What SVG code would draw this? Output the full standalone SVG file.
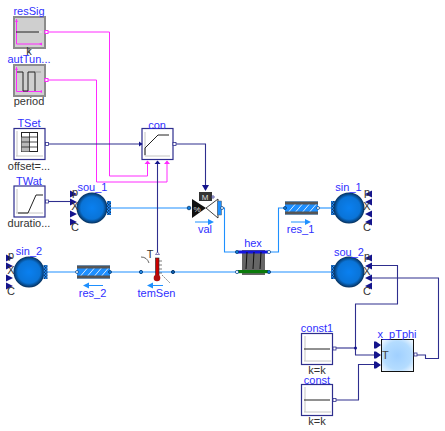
<svg xmlns="http://www.w3.org/2000/svg" width="445" height="431" viewBox="0 0 445 431">
<style>
text{font-family:"Liberation Sans",Arial,sans-serif;font-size:11px}
.n{fill:#2f2fff;text-anchor:middle}
.d{fill:#333;text-anchor:middle}
.b{fill:#fff;stroke:#2e2e8e;stroke-width:1.2}
.g{fill:#cfcfcf;stroke:#8c8c8c;stroke-width:2}
.ax{fill:none;stroke:#c4c4c4;stroke-width:1}
.axm{fill:none;stroke:#ff2bff;stroke-width:1}
.k{fill:none;stroke:#222;stroke-width:1}
.wb{fill:none;stroke:#1e90ff;stroke-width:1.1}
.wn{fill:none;stroke:#2e2e8e;stroke-width:1.1}
.wm{fill:none;stroke:#ff2bff;stroke-width:1}
.tri{fill:#14148c}
.dot{fill:#fff;stroke:#2e2e8e;stroke-width:.8}
.fl{fill:#0d7fe0;stroke:#0a3a70;stroke-width:.8}
.fo{fill:#fff;stroke:#0a4a90;stroke-width:.8}
.arrow{fill:#1e90ff}
</style>
<defs>
<radialGradient id="ball" cx=".5" cy=".5" r=".5"><stop offset="0" stop-color="#0a80f0"/><stop offset=".72" stop-color="#0a74d8"/><stop offset="1" stop-color="#06305c"/></radialGradient>
<radialGradient id="sq" cx=".5" cy=".5" r=".62"><stop offset="0" stop-color="#a0d0ff"/><stop offset=".7" stop-color="#b4dcff"/><stop offset="1" stop-color="#e6f3ff"/></radialGradient>
<pattern id="chk" width="3" height="3" patternUnits="userSpaceOnUse"><rect width="3" height="3" fill="#1e90ff"/><rect width="1.5" height="1.5" fill="#123a70"/><rect x="1.5" y="1.5" width="1.5" height="1.5" fill="#123a70"/></pattern>
<g id="ports"><path class="tri" d="M0-17.500l7 3.500-7 3.500zM0-9.500l7 3.500-7 3.500zM0 2.500l7 3.500-7 3.500zM0 10.500l7 3.500-7 3.500z"/></g>
<g id="pipeI"><rect x="0" y="0" width="33" height="13" fill="#1e8fff"/><rect x="0" y="0" width="33" height="3" fill="#555"/><rect x="0" y="10" width="33" height="3" fill="#555"/><path d="M4 10l6-7M11 10l6-7M18 10l6-7M25 10l6-7" stroke="#fff" stroke-width=".8"/></g>
</defs>
<g id="connectors">
<path class="wm" d="M45 32H109.500V176H147.500V161"/>
<path class="wm" d="M45 80H96.500V182H167V161"/>
<path class="wn" d="M45 144H142"/>
<path class="wn" d="M45 201.500H73"/>
<path class="wn" d="M173 144H205.500V190"/>
<path class="wb" d="M111 208H188"/>
<path class="wn" d="M157.500 161V253"/>
<path class="wb" d="M222 208H224.500V252H238"/>
<path class="wb" d="M268 252H278.500V208H285"/>
<path class="wb" d="M318 208H333"/>
<path class="wb" d="M333 272H46"/>
<path class="wn" d="M369 265.500H397.500V304H355.500V355H376"/>
<path class="wn" d="M369 278H438.500V358.500H425.500V355H415"/>
<path class="wn" d="M335 348H355.500"/>
<path class="wn" d="M334 400H358.500V364.500H376"/>
<circle cx="355.500" cy="348" r="1.500" fill="#14148c"/>
</g>
<g id="resSig"><rect class="g" x="14" y="17" width="31" height="31"/><path class="axm" d="M16.500 44H42M16.500 44V19"/><path d="M42 42.500l-3 1.500 3 1.500zM16.500 19l-1.500 3h3z" fill="#ff2bff"/><path class="k" d="M16 32H39"/><rect x="39" y="31" width="3" height="2" fill="#ddd"/><rect x="45" y="30.500" width="3" height="3" fill="#fff" stroke="#ff2bff"/><path d="M29 48V53" stroke="#222" stroke-width=".8"/><text class="n" x="29" y="15">resSig</text><text class="d" x="29" y="55">k</text></g>
<g id="autTuner"><rect class="g" x="14" y="65" width="31" height="31"/><path class="axm" d="M16.500 91.500H42M16.500 91.500V67"/><path d="M42 90l-3 1.500 3 1.500zM16.500 67l-1.500 3h3z" fill="#ff2bff"/><path class="k" d="M17 72H23V91H28V72H35V91"/><path d="M35 72H41" stroke="#999" fill="none"/><rect x="45" y="78.500" width="3" height="3" fill="#fff" stroke="#ff2bff"/><text class="n" x="29" y="63">autTun...</text><text class="d" x="29" y="105">period</text></g>
<g id="TSet"><rect class="b" x="14" y="128.500" width="31" height="31"/><path class="ax" d="M16 156H43M17 156V131"/><rect x="21.500" y="132.500" width="16" height="19" fill="#fff" stroke="#222"/><rect x="21.500" y="137" width="8" height="14.500" fill="#b8b8b8"/><path d="M21.500 137H37.500M21.500 142H37.500M21.500 147H37.500M29.500 132.500V151.500" stroke="#222" stroke-width=".8"/><rect class="dot" x="45.500" y="142.500" width="3" height="3"/><text class="n" x="29" y="127">TSet</text><text class="d" x="29" y="170">offset=...</text></g>
<g id="con"><rect class="b" x="142" y="128.500" width="31" height="31"/><path class="ax" d="M145 156H170M145 156V132"/><path class="k" d="M145 155V148L158 135H169"/><path class="tri" d="M139 141.500l3.500 2.500-3.500 2.500z"/><rect class="dot" x="173" y="142.500" width="3" height="3"/><path d="M144.500 164l3-3.500 3 3.500zM164 164l3-3.500 3 3.500z" fill="#ff2bff"/><path class="tri" d="M154.500 164l3-3.500 3 3.500z"/><text class="n" x="157" y="129">con</text></g>
<g id="TWat"><rect class="b" x="14" y="186" width="31" height="31"/><path class="ax" d="M16 213H43M17 213V189"/><path class="k" d="M18 213H28L36 195H43"/><rect class="dot" x="45.500" y="200" width="3" height="3"/><text class="n" x="29" y="185">TWat</text><text class="d" x="29" y="227">duratio...</text></g>
<g id="sou_1"><use href="#ports" x="70" y="208"/><circle cx="92" cy="208" r="15.500" fill="url(#ball)"/><rect x="107" y="201" width="4" height="14" fill="url(#chk)"/><text class="n" x="92.500" y="191">sou_1</text><text class="d" x="75" y="196">p</text><text class="d" x="75" y="210">X</text><text class="d" x="75" y="231">C</text></g>
<g id="val"><path d="M192 199L206 208L192 218Z" fill="#111"/><path d="M206 208L218 199V218Z" fill="#fff" stroke="#111" stroke-width=".8"/><rect x="199" y="192" width="13" height="9" fill="#333"/><text x="205" y="200" style="font-size:8px;fill:#ddd;text-anchor:middle">M</text><path class="tri" d="M202 185H209L205.500 191Z"/><circle cx="213" cy="197" r="1.200" class="dot"/><rect x="217.500" y="201" width="4" height="14" fill="#1e90ff" stroke="#555" stroke-width=".5"/><circle class="fl" cx="189" cy="208" r="1.800"/><circle class="fo" cx="222" cy="208" r="1.500"/><text x="197" y="212" style="font-size:8px;fill:#ddd;text-anchor:middle">%</text><path d="M195 222H208" stroke="#1e90ff"/><path class="arrow" d="M208 219l6 3-6 3z"/><text class="n" x="205" y="233">val</text></g>
<g id="res_1"><use href="#pipeI" x="285" y="201.500"/><circle class="fl" cx="285" cy="208" r="1.500"/><circle class="fo" cx="318" cy="208" r="1.500"/><path d="M291 222H305" stroke="#1e90ff"/><path class="arrow" d="M305 219l6 3-6 3z"/><text class="n" x="300.500" y="233">res_1</text></g>
<g id="sin_1"><rect x="331" y="201" width="4" height="14" fill="url(#chk)"/><circle cx="349" cy="208" r="15.500" fill="url(#ball)"/><use href="#ports" x="366" y="208" transform="matrix(-1 0 0 1 738 0)"/><text class="n" x="348.500" y="191">sin_1</text><text class="d" x="367" y="196">p</text><text class="d" x="367" y="210">X</text><text class="d" x="367" y="231">C</text></g>
<g id="sou_2"><rect x="331" y="265" width="4" height="14" fill="url(#chk)"/><circle cx="349" cy="272" r="15.500" fill="url(#ball)"/><use href="#ports" x="366" y="272" transform="matrix(-1 0 0 1 738 0)"/><text class="n" x="349" y="256">sou_2</text><text class="d" x="367" y="260">p</text><text class="d" x="367" y="275">X</text><text class="d" x="367" y="295">C</text></g>
<g id="sin_2"><use href="#ports" x="6" y="272"/><circle cx="29" cy="272" r="15.500" fill="url(#ball)"/><rect x="43.500" y="265" width="4" height="14" fill="url(#chk)"/><text class="n" x="29" y="255">sin_2</text><text class="d" x="11" y="259">p</text><text class="d" x="11" y="274">X</text><text class="d" x="11" y="295">C</text></g>
<g id="res_2"><use href="#pipeI" x="77" y="265.500"/><circle class="fo" cx="77" cy="272" r="1.500"/><circle class="fl" cx="110" cy="272" r="1.500"/><path d="M87 285.500H103" stroke="#1e90ff"/><path class="arrow" d="M89 282.500l-6 3 6 3z"/><text class="n" x="92.500" y="297">res_2</text></g>
<g id="temSen"><rect x="155.500" y="258" width="3.500" height="18" fill="#c00" stroke="#222" stroke-width=".6"/><circle cx="157" cy="278" r="3.300" fill="#b01010"/><path d="M159 261h3M159 265h3M159 269h3M159 273h3" stroke="#222" stroke-width=".6"/><path d="M141 257q6 0 8 6" fill="none" stroke="#222" stroke-width=".7"/><path d="M162 275l8 8" stroke="#888" stroke-dasharray="2 1"/><circle cx="141" cy="272" r="1.600" fill="#2a90e8" stroke="#0a4a90"/><circle cx="173" cy="272" r="1.600" fill="#0d5fb0" stroke="#0a3a70"/><path d="M155.500 254.500l2-2.500 2 2.500z" fill="#fff" stroke="#2e2e8e" stroke-width=".6"/><path d="M148 285.500H163" stroke="#1e90ff"/><path class="arrow" d="M153 282.500l-6 3 6 3z"/><text class="d" x="150" y="258">T</text><text class="n" x="156.500" y="297">temSen</text></g>
<g id="hex"><rect x="242" y="250" width="23" height="25" fill="#666"/><rect x="238" y="250.500" width="30" height="3" fill="#1414e0"/><rect x="238" y="270" width="30" height="3.200" fill="#0a7a0a"/><path d="M247 252l-1 17M254 252l-1 17M261 252l-1 17" stroke="#111" stroke-width="1"/><circle class="fl" cx="237" cy="252" r="1.600"/><circle class="fo" cx="269" cy="252" r="1.600"/><circle class="fo" cx="237" cy="272" r="1.600"/><circle class="fl" cx="269" cy="272" r="1.600"/><text class="n" x="253" y="247">hex</text></g>
<g id="const1"><rect class="b" x="301.500" y="333.500" width="31" height="31"/><path class="ax" d="M304 361H331M305 361V336"/><path class="k" d="M304 349H330"/><rect class="dot" x="333" y="347" width="3" height="3"/><text class="n" x="317" y="332">const1</text><text class="d" x="317" y="374">k=k</text></g>
<g id="const"><rect class="b" x="301.500" y="384.500" width="31" height="31"/><path class="ax" d="M304 412H331M305 412V387"/><path class="k" d="M304 400H330"/><rect class="dot" x="333" y="398.500" width="3" height="3"/><text class="n" x="317" y="383.500">const</text><text class="d" x="317" y="425">k=k</text></g>
<g id="x_pTphi"><path class="tri" d="M374 341.500h2l5 3.500-5 3.500h-2zM374 351.500h2l5 3.500-5 3.500h-2zM374 361.500h2l5 3.500-5 3.500h-2z"/><rect x="381.500" y="339.500" width="32" height="32" fill="url(#sq)" stroke="#111" stroke-width="1"/><text x="382" y="359" style="fill:#444">T</text><rect class="dot" x="414" y="353" width="3" height="3"/><text class="n" x="397" y="338">x_pTphi</text></g>
</svg>
